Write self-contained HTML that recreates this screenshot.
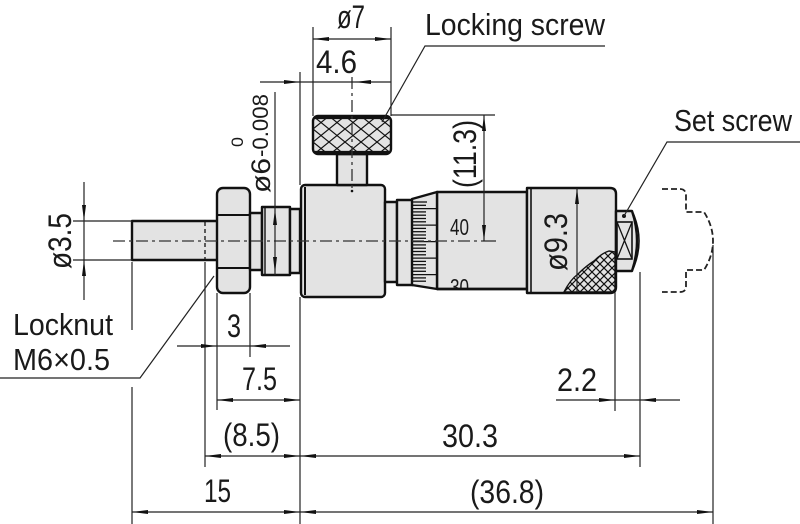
<!DOCTYPE html>
<html><head><meta charset="utf-8"><style>
html,body{margin:0;padding:0;background:#fff;}
svg{display:block;}
text{font-family:"Liberation Sans",sans-serif;fill:#1a1a1a;}
</style></head><body>
<svg width="800" height="524" viewBox="0 0 800 524" xmlns="http://www.w3.org/2000/svg">
<defs>
<pattern id="kn1" width="16" height="13" patternUnits="userSpaceOnUse" x="313" y="116">
<path d="M0,0 L16,13 M0,13 L16,0" stroke="#111" stroke-width="1.2" fill="none"/>
</pattern>
<pattern id="kn2" width="8" height="8" patternUnits="userSpaceOnUse">
<path d="M0,0 L8,8 M0,8 L8,0" stroke="#111" stroke-width="1.2" fill="none"/>
</pattern>
<clipPath id="thc"><rect x="437" y="192" width="90" height="96"/></clipPath>
</defs>

<!-- ===== parts ===== -->
<g fill="#e3e3e3" stroke="#111" stroke-width="2.4" stroke-linejoin="round">
<!-- spindle -->
<rect x="132" y="221" width="86" height="39"/>
<!-- locknut -->
<rect x="217" y="188" width="33" height="105" rx="6"/>
<!-- thread stub -->
<rect x="250" y="213" width="12" height="57"/>
<!-- collar -->
<rect x="262" y="207" width="28" height="68"/>
<rect x="290" y="209" width="10" height="64"/>
<!-- body -->
<rect x="301" y="185" width="84" height="112" rx="4"/>
<!-- rings -->
<rect x="385" y="202" width="12" height="80"/>
<rect x="397" y="200" width="16" height="85"/>
<!-- thimble -->
<rect x="437" y="192" width="90" height="97"/>
<!-- bevel -->
<polygon points="412,199 437,192 437,289 412,285"/>
<!-- knurled sleeve -->
<path d="M527,188 H610 Q616,188 616,194 V287 Q616,293 610,293 H527 Z"/>
<!-- set screw -->
<path d="M616,211 H632 Q642,241 632,271 H616 Z"/>
<!-- locking screw neck -->
<rect x="337" y="154" width="30" height="31"/>
<!-- locking screw head -->
<rect x="313" y="116" width="78" height="38" rx="5"/>
</g>

<!-- part details -->
<g stroke="#111" fill="none">
<line x1="217" y1="215" x2="250" y2="215" stroke-width="2"/>
<line x1="217" y1="268" x2="250" y2="268" stroke-width="2"/>
<line x1="305" y1="187" x2="305" y2="295" stroke-width="2"/>
<line x1="531" y1="189" x2="531" y2="292" stroke-width="1.6"/>
<line x1="265" y1="208" x2="265" y2="274" stroke-width="1.4"/>
<line x1="205" y1="222" x2="205" y2="259" stroke-width="1.3" stroke-dasharray="4 3"/>
<!-- set screw inner -->
<rect x="617" y="222" width="15" height="37" stroke-width="1.6"/>
<path d="M617,222 L632,259 M632,222 L617,259" stroke-width="1.3"/>
<path d="M633,213 Q645,241 633,269" stroke-width="1.6"/>
</g>
<!-- knurl head pattern -->
<rect x="314" y="118" width="76" height="34" rx="4" fill="url(#kn1)"/>
<line x1="315" y1="118" x2="389" y2="118" stroke="#111" stroke-width="2.2"/>
<line x1="315" y1="152" x2="389" y2="152" stroke="#111" stroke-width="2.2"/>
<!-- sleeve knurl -->
<path d="M564,292 Q570,280 578,274 Q586,266 594,261 Q602,253 609,251 L615,252 L615,292 Z" fill="url(#kn2)" stroke="#111" stroke-width="1.4"/>
<!-- graduation ticks -->
<g stroke="#111" stroke-width="1.3">
<line x1="413" y1="202" x2="427" y2="202"/><line x1="413" y1="205.3" x2="426" y2="205.3"/>
<line x1="413" y1="208.6" x2="436" y2="208.6"/><line x1="413" y1="211.9" x2="426" y2="211.9"/>
<line x1="413" y1="215.2" x2="426" y2="215.2"/><line x1="413" y1="218.5" x2="426" y2="218.5"/>
<line x1="413" y1="221.8" x2="426" y2="221.8"/><line x1="413" y1="225.1" x2="436" y2="225.1"/>
<line x1="413" y1="228.4" x2="426" y2="228.4"/><line x1="413" y1="231.7" x2="426" y2="231.7"/>
<line x1="413" y1="235" x2="426" y2="235"/><line x1="413" y1="238.3" x2="426" y2="238.3"/>
<line x1="413" y1="241.6" x2="436" y2="241.6"/><line x1="413" y1="244.9" x2="426" y2="244.9"/>
<line x1="413" y1="248.2" x2="426" y2="248.2"/><line x1="413" y1="251.5" x2="426" y2="251.5"/>
<line x1="413" y1="254.8" x2="426" y2="254.8"/><line x1="413" y1="258.1" x2="436" y2="258.1"/>
<line x1="413" y1="261.4" x2="426" y2="261.4"/><line x1="413" y1="264.7" x2="426" y2="264.7"/>
<line x1="413" y1="268" x2="426" y2="268"/><line x1="413" y1="271.3" x2="426" y2="271.3"/>
<line x1="413" y1="274.6" x2="436" y2="274.6"/><line x1="413" y1="277.9" x2="426" y2="277.9"/>
<line x1="413" y1="281.2" x2="426" y2="281.2"/>
</g>
<circle cx="624" cy="216" r="2" fill="#111"/>
<circle cx="352" cy="191" r="1.3" fill="#111"/>

<!-- dashed ratchet outline -->
<path d="M662,189 H680 Q686,189 686,196 V212 H704 Q713,226 713,241 Q713,256 704,270 H686 V286 Q686,292 680,292 H662" fill="none" stroke="#222" stroke-width="1.8" stroke-dasharray="6 3"/>

<!-- center lines -->
<line x1="113" y1="241" x2="483" y2="241" stroke="#333" stroke-width="1.3" stroke-dasharray="12 4 3 4"/>
<line x1="483" y1="241" x2="496" y2="241" stroke="#222" stroke-width="1.2"/>
<line x1="352" y1="77" x2="352" y2="190" stroke="#333" stroke-width="1.3" stroke-dasharray="12 4 3 4"/>

<!-- ===== dimension lines ===== -->
<g stroke="#222" stroke-width="1.2" fill="none">
<!-- ø7 -->
<line x1="313" y1="27" x2="313" y2="116"/>
<line x1="391" y1="27" x2="391" y2="116"/>
<line x1="313" y1="39" x2="391" y2="39"/>
<!-- 4.6 -->
<line x1="260" y1="82" x2="391" y2="82"/>
<line x1="300" y1="72" x2="300" y2="185"/>
<line x1="300" y1="297" x2="300" y2="524"/>
<!-- locking screw leader -->
<polyline points="382,122 425,46 605,46"/>
<!-- set screw leader -->
<polyline points="624,216 667,142 800,142"/>
<!-- 11.3 -->
<line x1="391" y1="115" x2="495" y2="115"/>
<line x1="484" y1="115" x2="484" y2="241"/>
<!-- ø9.3 -->
<line x1="577" y1="188" x2="577" y2="292"/>
<!-- ø6 -->
<line x1="275" y1="92" x2="275" y2="275"/>
<!-- ø3.5 -->
<line x1="84" y1="182" x2="84" y2="300"/>
<line x1="73" y1="221" x2="132" y2="221"/>
<line x1="73" y1="260" x2="132" y2="260"/>
<!-- locknut leader -->
<polyline points="0,378 140,378 214,276"/>
<!-- extension lines -->
<line x1="132" y1="262" x2="132" y2="330"/>
<line x1="132" y1="387" x2="132" y2="524"/>
<line x1="205" y1="262" x2="205" y2="467"/>
<line x1="217" y1="293" x2="217" y2="410"/>
<line x1="250" y1="293" x2="250" y2="357"/>
<line x1="615" y1="293" x2="615" y2="411"/>
<line x1="640" y1="272" x2="640" y2="467"/>
<line x1="713" y1="245" x2="713" y2="524"/>
<!-- horizontal dims -->
<line x1="177" y1="346" x2="290" y2="346"/>
<line x1="217" y1="400" x2="300" y2="400"/>
<line x1="205" y1="456" x2="640" y2="456"/>
<line x1="132" y1="512" x2="713" y2="512"/>
<line x1="556" y1="400" x2="680" y2="400"/>
</g>

<!-- arrowheads -->
<g fill="#111">
<polygon points="313,39 329,37 329,41"/>
<polygon points="391,39 375,37 375,41"/>
<polygon points="300,82 284,80 284,84"/>
<polygon points="355,82 371,80 371,84"/>
<polygon points="484,115 482,131 486,131"/>
<polygon points="484,241 482,225 486,225"/>
<polygon points="577,188 575,204 579,204"/>
<polygon points="275,209 273,225 277,225"/>
<polygon points="275,273 273,257 277,257"/>
<polygon points="84,221 82,205 86,205"/>
<polygon points="84,260 82,276 86,276"/>
<polygon points="217,346 201,344 201,348"/>
<polygon points="250,346 266,344 266,348"/>
<polygon points="217,400 233,398 233,402"/>
<polygon points="300,400 284,398 284,402"/>
<polygon points="205,456 221,454 221,458"/>
<polygon points="300,456 284,454 284,458"/>
<polygon points="300,456 316,454 316,458"/>
<polygon points="640,456 624,454 624,458"/>
<polygon points="132,512 148,510 148,514"/>
<polygon points="300,512 284,510 284,514"/>
<polygon points="300,512 316,510 316,514"/>
<polygon points="713,512 697,510 697,514"/>
<polygon points="615,400 599,398 599,402"/>
<polygon points="640,400 656,398 656,402"/>
</g>

<!-- ===== text ===== -->
<text x="337" y="28" font-size="32" textLength="28" lengthAdjust="spacingAndGlyphs">ø7</text>
<text x="316" y="73" font-size="32" textLength="41" lengthAdjust="spacingAndGlyphs">4.6</text>
<text x="425" y="35" font-size="31" textLength="180" lengthAdjust="spacingAndGlyphs">Locking screw</text>
<text x="674" y="131" font-size="31" textLength="118" lengthAdjust="spacingAndGlyphs">Set screw</text>
<text transform="translate(476,154) rotate(-90)" text-anchor="middle" font-size="32" textLength="68" lengthAdjust="spacingAndGlyphs">(11.3)</text>
<text transform="translate(567,242) rotate(-90)" text-anchor="middle" font-size="32" textLength="58" lengthAdjust="spacingAndGlyphs">ø9.3</text>
<text transform="translate(71,241) rotate(-90)" text-anchor="middle" font-size="32" textLength="56" lengthAdjust="spacingAndGlyphs">ø3.5</text>
<text transform="translate(270,193) rotate(-90)" font-size="27" textLength="35" lengthAdjust="spacingAndGlyphs">ø6</text>
<text transform="translate(268,157) rotate(-90)" font-size="22" textLength="63" lengthAdjust="spacingAndGlyphs">-0.008</text>
<text transform="translate(243,147) rotate(-90)" font-size="17" textLength="10" lengthAdjust="spacingAndGlyphs">0</text>
<text x="450" y="235" font-size="23" textLength="19" lengthAdjust="spacingAndGlyphs">40</text>
<text x="450" y="295" font-size="23" textLength="19" lengthAdjust="spacingAndGlyphs" clip-path="url(#thc)">30</text>
<line x1="437" y1="289" x2="527" y2="289" stroke="#111" stroke-width="2.4"/>
<text x="227" y="337" font-size="32" textLength="14" lengthAdjust="spacingAndGlyphs">3</text>
<text x="242" y="390" font-size="32" textLength="35" lengthAdjust="spacingAndGlyphs">7.5</text>
<text x="223" y="446" font-size="32" textLength="57" lengthAdjust="spacingAndGlyphs">(8.5)</text>
<text x="204" y="502" font-size="32" textLength="27" lengthAdjust="spacingAndGlyphs">15</text>
<text x="442" y="447" font-size="32" textLength="56" lengthAdjust="spacingAndGlyphs">30.3</text>
<text x="470" y="503" font-size="32" textLength="74" lengthAdjust="spacingAndGlyphs">(36.8)</text>
<text x="557" y="391" font-size="32" textLength="40" lengthAdjust="spacingAndGlyphs">2.2</text>
<text x="13" y="335" font-size="31" textLength="100" lengthAdjust="spacingAndGlyphs">Locknut</text>
<text x="13" y="370" font-size="31" textLength="97" lengthAdjust="spacingAndGlyphs">M6×0.5</text>
</svg>
</body></html>
